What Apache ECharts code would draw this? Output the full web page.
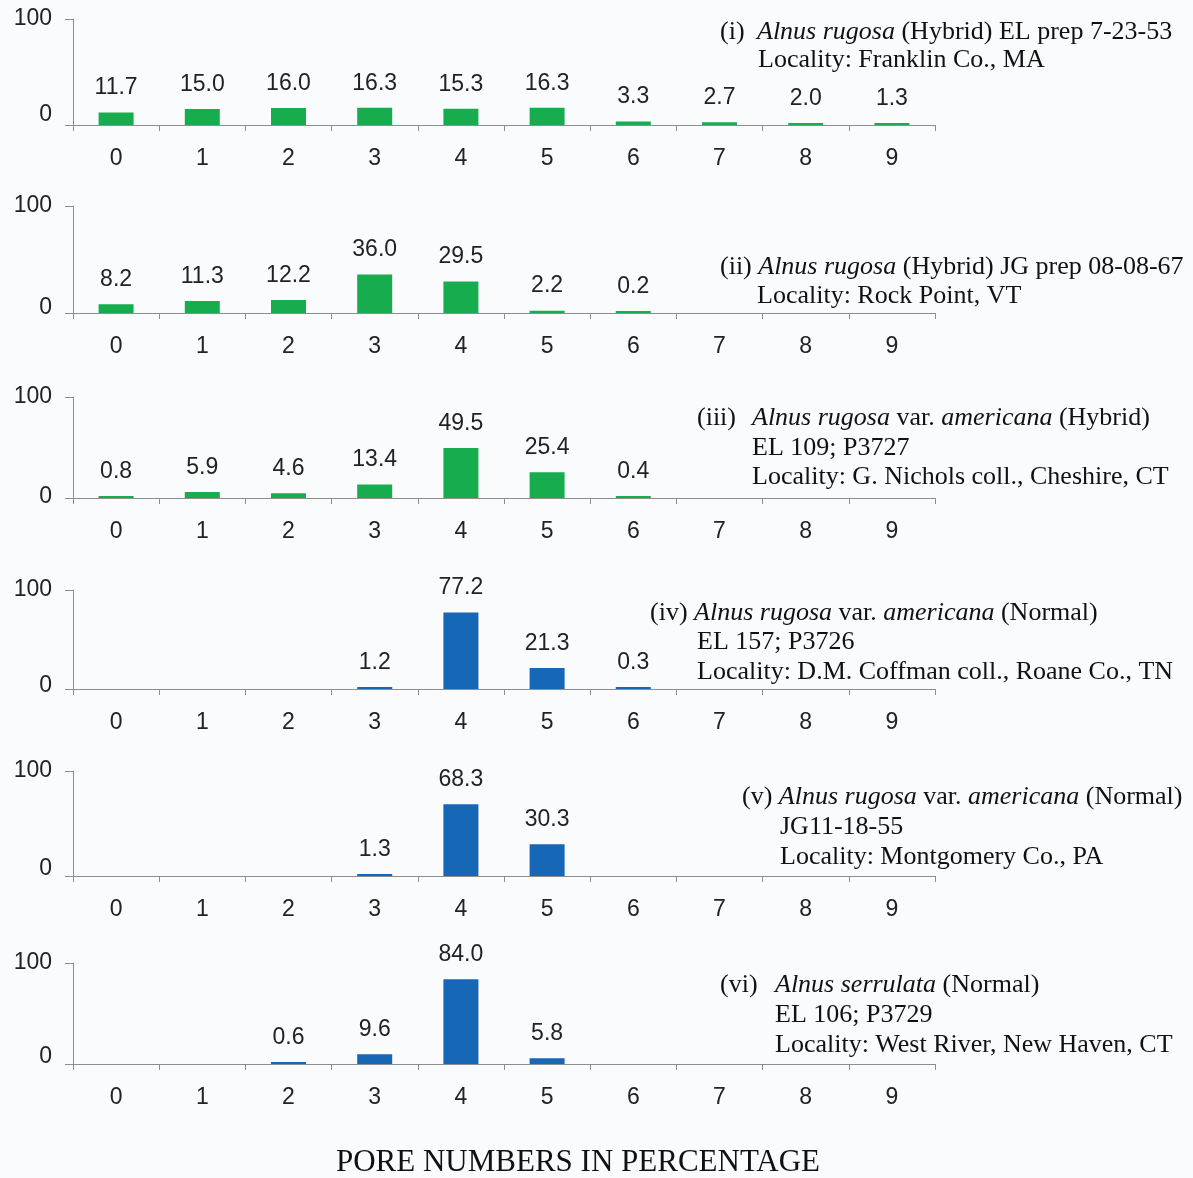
<!DOCTYPE html>
<html>
<head>
<meta charset="utf-8">
<script src="https://cdn.jsdelivr.net/npm/echarts@6/dist/echarts.min.js"></script>
<style>
  html, body { margin: 0; padding: 0; background: #fafbfd; }
  #chart { width: 1193px; height: 1178px; }
</style>
</head>
<body>
<div id="chart"></div>
<script>
// pore number categories
var categories = ['0', '1', '2', '3', '4', '5', '6', '7', '8', '9'];
var yTicks = ['0', '100'];

// percentages per pore number, one array per sample
var hybridFranklin = [11.7, 15.0, 16.0, 16.3, 15.3, 16.3, 3.3, 2.7, 2.0, 1.3];
var hybridRockPoint = [8.2, 11.3, 12.2, 36.0, 29.5, 2.2, 0.2, null, null, null];
var hybridCheshire = [0.8, 5.9, 4.6, 13.4, 49.5, 25.4, 0.4, null, null, null];
var normalRoane = [null, null, null, 1.2, 77.2, 21.3, 0.3, null, null, null];
var normalMontgomery = [null, null, null, 1.3, 68.3, 30.3, null, null, null, null];
var serrulataNewHaven = [null, null, 0.6, 9.6, 84.0, 5.8, null, null, null, null];

var panels = [hybridFranklin, hybridRockPoint, hybridCheshire, normalRoane, normalMontgomery, serrulataNewHaven];

// layout of each panel (top of plot, height of plot, lift of the "0" label)
var gridTops = [19, 206, 397, 590, 771, 963];
var gridHeights = [106, 107, 101, 99, 105, 101];
var zeroLift = [10, 5, 1, 3, 7, 7];
var barColors = ['#17ad4e', '#17ad4e', '#17ad4e', '#1667b6', '#1667b6', '#1667b6'];

var axisGray = '#8e8e8e';
var sansFont = 'Liberation Sans';
var serifFont = 'Liberation Serif';
var labelSize = 23;

// annotations: [x, y, rich text]
var notes = [
  [720, 32, '(i)'], [757, 32, '{i|Alnus rugosa} (Hybrid) EL prep 7-23-53'],
  [758, 60, 'Locality: Franklin Co., MA'],

  [720, 267, '(ii) {i|Alnus rugosa} (Hybrid) JG prep 08-08-67'],
  [757, 296, 'Locality: Rock Point, VT'],

  [697, 418, '(iii)'], [752, 418, '{i|Alnus rugosa} var. {i|americana} (Hybrid)'],
  [752, 448, 'EL 109; P3727'],
  [752, 477, 'Locality: G. Nichols coll., Cheshire, CT'],

  [650, 613, '(iv) {i|Alnus rugosa} var. {i|americana} (Normal)'],
  [697, 642, 'EL 157; P3726'],
  [697, 672, 'Locality: D.M. Coffman coll., Roane Co., TN'],

  [742, 797, '(v) {i|Alnus rugosa} var. {i|americana} (Normal)'],
  [780, 827, 'JG11-18-55'],
  [780, 857, 'Locality: Montgomery Co., PA'],

  [720, 985, '(vi)'], [775, 985, '{i|Alnus serrulata} (Normal)'],
  [775, 1015, 'EL 106; P3729'],
  [775, 1045, 'Locality: West River, New Haven, CT']
];

var chart = echarts.init(document.getElementById('chart'));

var grids = [], xAxes = [], yAxes = [], series = [];

panels.forEach(function (values, i) {
  grids.push({
    left: 73,
    right: 258,
    top: gridTops[i],
    height: gridHeights[i]
  });

  xAxes.push({
    type: 'category',
    gridIndex: i,
    data: categories,
    boundaryGap: true,
    axisLine: { lineStyle: { color: axisGray, width: 1 } },
    axisTick: { show: true, interval: 0, length: 6, lineStyle: { color: axisGray } },
    axisLabel: { margin: 22, color: '#222', fontSize: labelSize, fontFamily: sansFont, interval: 0 }
  });

  yAxes.push({
    type: 'value',
    gridIndex: i,
    min: 0,
    max: 100,
    interval: 100,
    splitLine: { show: false },
    axisLine: { show: true, lineStyle: { color: axisGray, width: 1 } },
    axisTick: { show: true, length: 8, lineStyle: { color: axisGray } },
    axisLabel: {
      margin: 21,
      color: '#222',
      fontSize: labelSize,
      fontFamily: sansFont,
      formatter: function (v) {
        return v === 0 ? '{z|' + yTicks[0] + '}' : yTicks[1];
      },
      rich: {
        z: { fontSize: labelSize, fontFamily: sansFont, color: '#222', padding: [0, 0, zeroLift[i] * 2, 0] }
      }
    }
  });

  series.push({
    type: 'bar',
    xAxisIndex: i,
    yAxisIndex: i,
    data: values,
    barWidth: 35,
    barMinHeight: 2,
    itemStyle: { color: barColors[i] },
    label: {
      show: true,
      position: 'top',
      distance: 13,
      color: '#222',
      fontSize: labelSize,
      fontFamily: sansFont,
      formatter: function (p) {
        return p.value == null ? '' : Number(p.value).toFixed(1);
      }
    }
  });
});

var graphics = notes.map(function (n) {
  return {
    type: 'text',
    x: n[0],
    y: n[1],
    style: {
      text: n[2],
      fill: '#111',
      fontSize: 26,
      fontFamily: serifFont,
      align: 'left',
      verticalAlign: 'middle',
      rich: {
        i: { fontStyle: 'italic', fontSize: 26, fontFamily: serifFont, fill: '#111' }
      }
    }
  };
});

graphics.push({
  type: 'text',
  x: 578,
  y: 1163,
  style: {
    text: 'PORE NUMBERS IN PERCENTAGE',
    fill: '#111',
    fontSize: 31,
    fontFamily: serifFont,
    align: 'center',
    verticalAlign: 'middle'
  }
});

var option = {
  backgroundColor: '#fafbfd',
  animation: false,
  grid: grids,
  xAxis: xAxes,
  yAxis: yAxes,
  series: series,
  graphic: graphics
};

chart.setOption(option);
</script>
</body>
</html>
